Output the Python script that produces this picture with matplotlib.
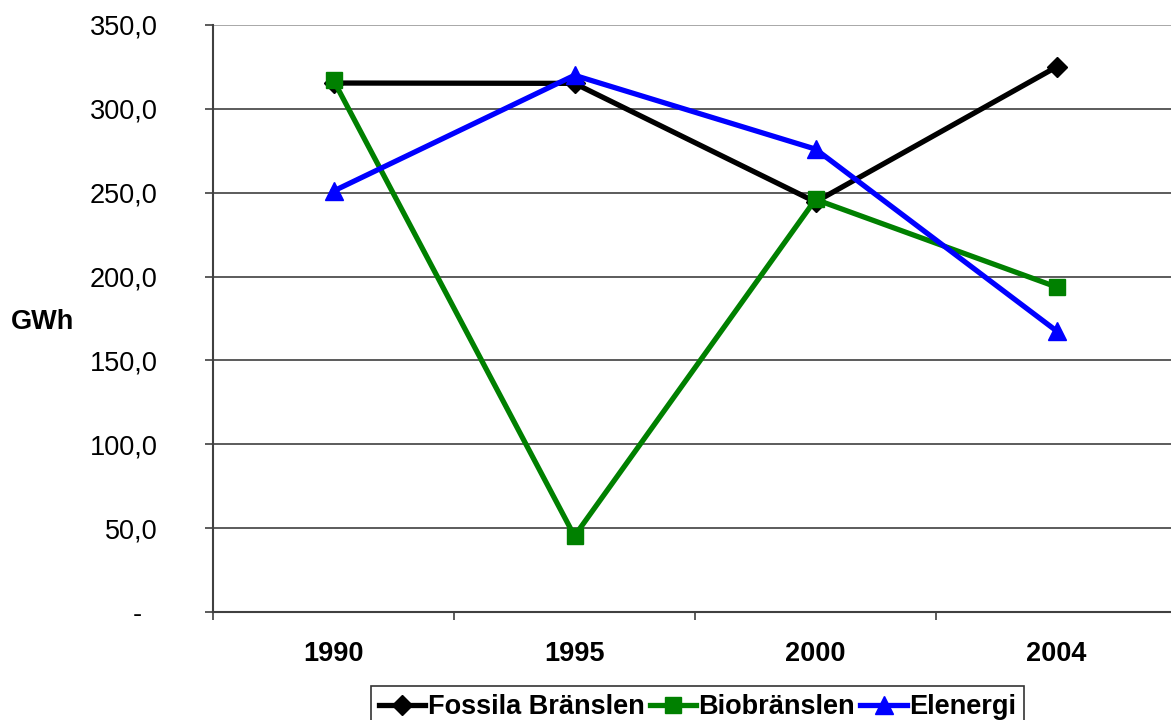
import matplotlib
matplotlib.use('Agg')
import matplotlib.pyplot as plt

years = ['1990', '1995', '2000', '2004']
fossila = [315.4, 315.2, 244.5, 325.0]
bio = [317.0, 45.3, 246.0, 193.8]
el = [251.0, 320.0, 276.0, 167.6]
yticks = [0, 50, 100, 150, 200, 250, 300, 350]
ytick_labels = ['-  ', '50,0', '100,0', '150,0', '200,0', '250,0', '300,0', '350,0']

plt.rcParams['font.family'] = ['Liberation Sans', 'DejaVu Sans']
fs = 19.5

fig = plt.figure(figsize=(11.71, 7.2), dpi=100)
ax = fig.add_axes([213 / 1171, 1 - 612 / 720, 964 / 1171, 587 / 720])

x = range(1, len(years) + 1)
ax.plot(x, fossila, color='black', lw=3.8, marker='D', ms=10, label='Fossila Bränslen', zorder=3)
ax.plot(x, bio, color='#008000', lw=3.8, marker='s', ms=12, label='Biobränslen', zorder=4)
ax.plot(x, el, color='#0000ff', lw=3.8, marker='^', ms=13, label='Elenergi', zorder=5)

ax.set_xlim(0.5, len(years) + 0.5)
ax.set_ylim(0, 350)

# category boundaries get the tick marks, the centres get the labels
ax.set_xticks([i + 0.5 for i in range(len(years) + 1)])
ax.set_xticklabels([])
ax.set_xticks(list(x), minor=True)
ax.set_xticklabels(years, minor=True, fontsize=fs, fontweight='bold')
ax.tick_params(axis='x', which='major', direction='out', length=6, width=1.2, color='#404040')
ax.tick_params(axis='x', which='minor', length=0, pad=21)

ax.set_yticks(yticks)
ax.set_yticklabels(ytick_labels, fontsize=fs)
ax.tick_params(axis='y', direction='out', length=6, width=1.2, color='#404040', pad=34)
ax.yaxis.grid(True, color='#404040', lw=1.2)
ax.get_ygridlines()[-1].set_color('#999999')
ax.set_axisbelow(True)

for side in ['top', 'right']:
    ax.spines[side].set_visible(False)
for side in ['left', 'bottom']:
    ax.spines[side].set_color('#404040')
    ax.spines[side].set_linewidth(1.5)

fig.text(42 / 1171, 1 - 322 / 720, 'GWh', fontsize=fs, fontweight='bold', ha='center', va='center')

leg = fig.legend(loc='upper center', bbox_to_anchor=(697.5 / 1171, 1 - 686 / 720), ncol=3,
                 prop={'size': fs, 'weight': 'bold'}, handlelength=1.7, handletextpad=0.1,
                 columnspacing=0.2, borderpad=0.3, borderaxespad=0, fancybox=False,
                 frameon=True, edgecolor='black')
leg.get_frame().set_linewidth(1.2)

fig.savefig('out.png', dpi=100)
